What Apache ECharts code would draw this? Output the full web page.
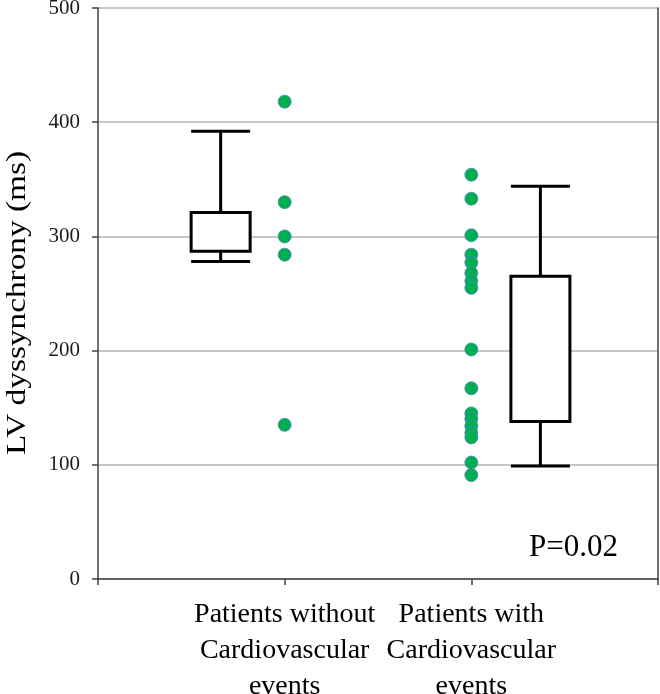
<!DOCTYPE html>
<html>
<head>
<meta charset="utf-8">
<script src="https://cdn.jsdelivr.net/npm/echarts@6/dist/echarts.min.js"></script>
<style>
html,body{margin:0;padding:0;background:#fff;}
#chart{width:660px;height:694px;}
</style>
</head>
<body>
<div id="chart"></div>
<script>
// ---- data ----
const categories = ['Patients without\nCardiovascular\nevents', 'Patients with\nCardiovascular\nevents'];
const yTicks = [0, 100, 200, 300, 400, 500];
const yTitle = 'LV dyssynchrony (ms)';
const dotsWithout = [418, 330, 300, 284, 135];
const dotsWith = [354, 333, 301, 284, 277, 268, 261, 255, 201, 167, 145, 140, 134, 128, 124, 102, 91];
// box: [min, q1, q3, max]
const boxWithout = [278, 287, 321, 392];
const boxWith = [99, 138, 265, 344];
const pValueText = 'P=0.02';

// ---- layout / style ----
const BOX_OFFSET = [-0.343, 0.37]; // horizontal offset of each box from its category tick (axis units)
const BOX_HALF_W = 29.5;
const SERIF = '"Liberation Serif", "Times New Roman", serif';

const chart = echarts.init(document.getElementById('chart'));

function renderBox(params, api) {
  const cat = api.value(0);
  const xv = cat + BOX_OFFSET[params.dataIndex];
  const cx = api.coord([xv, 0])[0];
  const yMin = api.coord([xv, api.value(1)])[1];
  const yQ1 = api.coord([xv, api.value(2)])[1];
  const yQ3 = api.coord([xv, api.value(3)])[1];
  const yMax = api.coord([xv, api.value(4)])[1];
  const st = { stroke: '#000', lineWidth: 3, fill: null };
  const h = BOX_HALF_W;
  return {
    type: 'group',
    children: [
      { type: 'line', shape: { x1: cx, y1: yMax, x2: cx, y2: yQ3 }, style: st },
      { type: 'line', shape: { x1: cx, y1: yQ1, x2: cx, y2: yMin }, style: st },
      { type: 'line', shape: { x1: cx - h, y1: yMax, x2: cx + h, y2: yMax }, style: st },
      { type: 'line', shape: { x1: cx - h, y1: yMin, x2: cx + h, y2: yMin }, style: st },
      { type: 'rect', shape: { x: cx - h, y: yQ3, width: 2 * h, height: yQ1 - yQ3 },
        style: { stroke: '#000', lineWidth: 3, fill: '#fff' } }
    ]
  };
}

const dotStyle = { color: '#00b050', borderColor: '#4f81bd', borderWidth: 0.8, opacity: 1 };

const option = {
  animation: false,
  backgroundColor: '#fff',
  grid: { left: 98, right: 2, top: 8, bottom: 115, containLabel: false, outerBoundsMode: 'none' },
  xAxis: {
    type: 'value', min: 0, max: 3, interval: 1,
    axisLine: { show: true, lineStyle: { color: '#404040', width: 1.5 } },
    axisTick: { show: true, length: 6, lineStyle: { color: '#404040', width: 1.5 } },
    splitLine: { show: false },
    axisLabel: {
      formatter: function (v) { return v >= 1 && v <= categories.length ? categories[v - 1] : ''; },
      fontFamily: SERIF, fontSize: 28, lineHeight: 36, color: '#000', margin: 18
    }
  },
  yAxis: [{
    type: 'value', min: yTicks[0], max: yTicks[yTicks.length - 1], interval: yTicks[1] - yTicks[0],
    axisLine: { show: true, lineStyle: { color: '#404040', width: 1.5 } },
    axisTick: { show: true, length: 6, lineStyle: { color: '#404040', width: 1.5 } },
    splitLine: { show: true, lineStyle: { color: '#b4b4b4', width: 1.5 } },
    axisLabel: { fontFamily: SERIF, fontSize: 21, color: '#1a1a1a', margin: 18 }
  }, {
    type: 'value', position: 'right', min: yTicks[0], max: yTicks[yTicks.length - 1],
    axisLine: { show: true, lineStyle: { color: '#404040', width: 1.5 } },
    axisTick: { show: false }, axisLabel: { show: false }, splitLine: { show: false }
  }],
  series: [
    {
      type: 'custom', renderItem: renderBox, z: 3,
      encode: { x: 0, y: [1, 2, 3, 4] },
      data: [[1].concat(boxWithout), [2].concat(boxWith)]
    },
    {
      type: 'scatter', symbolSize: 13, z: 4, itemStyle: dotStyle,
      data: dotsWithout.map(v => [1, v])
    },
    {
      type: 'scatter', symbolSize: 13, z: 4, itemStyle: dotStyle,
      data: dotsWith.map(v => [2, v])
    }
  ],
  graphic: [
    {
      type: 'text', x: 18, y: 303, rotation: Math.PI / 2, scaleX: 1.19,
      style: { text: yTitle, font: '28px ' + SERIF, fill: '#000', align: 'center', verticalAlign: 'middle' }
    },
    {
      type: 'text', x: 529, y: 548,
      style: { text: pValueText, font: '31px ' + SERIF, fill: '#000', align: 'left', verticalAlign: 'middle' }
    }
  ]
};
chart.setOption(option);
</script>
</body>
</html>
